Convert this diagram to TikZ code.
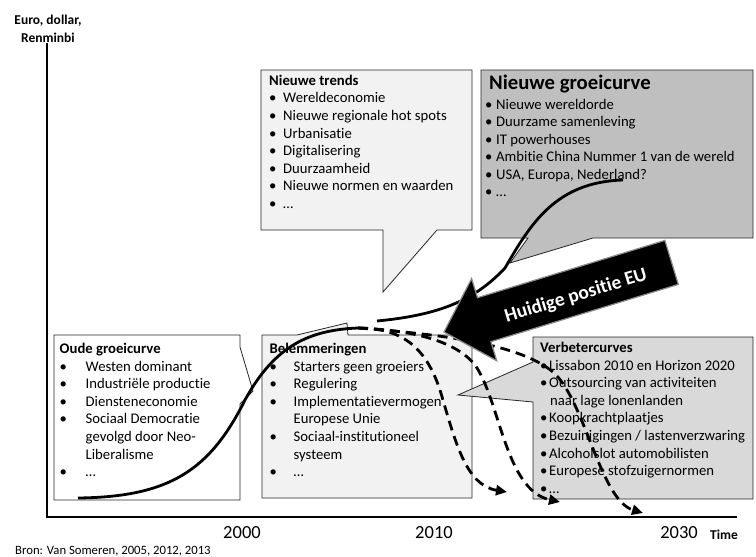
\documentclass[tikz,border=0pt]{standalone}
\usepackage{fontspec}
\setmainfont{Carlito}[Ligatures=NoCommon]
\usetikzlibrary{arrows.meta}

\definecolor{lichtgrijs}{HTML}{F2F2F2}
\definecolor{middengrijs}{HTML}{D9D9D9}
\definecolor{donkergrijs}{HTML}{BFBFBF}

\newcommand{\lijstfont}{\fontsize{14.7}{17.6}\selectfont}
\newcommand{\opsom}[2]{\makebox[#1][l]{•}#2}

\begin{document}
\begin{tikzpicture}[x=1pt,y=-1pt,
  rand/.style={draw=black!85,line width=0.8pt},
  tekst/.style={anchor=base west,inner sep=0pt},
  curve/.style={line width=2.8pt},
  stippel/.style={line width=2.8pt,dash pattern=on 10pt off 6pt,-{Triangle[length=11pt,width=10pt]}},
  jaar/.style={anchor=base,inner sep=0pt,font=\fontsize{18.5}{18.5}\selectfont}]

\useasboundingbox (0,0) rectangle (756,557);

% assen
\draw[line width=2.5pt] (47,43) -- (47,517) -- (737,517);
\node[inner sep=0pt,align=center,font=\fontsize{13.5}{18}\selectfont\bfseries] (yas) at (48,29) {Euro, dollar,\\Renminbi};
\node[jaar] (j2000) at (242,538) {2000};
\node[jaar] (j2010) at (434,538) {2010};
\node[jaar] (j2030) at (679,538) {2030};
\node[anchor=base,inner sep=0pt,font=\fontsize{13.5}{13.5}\selectfont\bfseries] (tijd) at (724,539.5) {Time};
\node[tekst,font=\fontsize{12.7}{12.7}\selectfont] (bron) at (15,554) {Bron: Van Someren, 2005, 2012, 2013};

% oude groeicurve
\draw[rand,fill=white] (54,335) -- (240,335) -- (240,347) -- (253,391) -- (240,404) -- (240,500) -- (54,500) -- cycle;
\node[tekst] (oude) at (59.5,353.5) {\parbox[t]{180pt}{\lijstfont
  \textbf{Oude groeicurve}\\
  \opsom{26pt}{Westen dominant}\\
  \opsom{26pt}{Industriële productie}\\
  \opsom{26pt}{Diensteneconomie}\\
  \opsom{26pt}{Sociaal Democratie}\\
  \hspace*{26pt}gevolgd door Neo-\\
  \hspace*{26pt}Liberalisme\\
  \opsom{26pt}{…}}};

% belemmeringen
\draw[rand,fill=lichtgrijs] (262,335) -- (297,335) -- (347,323) -- (348,335) -- (472,335) -- (472,498) -- (262,498) -- cycle;
\node[tekst] (belem) at (269.5,353.5) {\parbox[t]{200pt}{\lijstfont
  \textbf{Belemmeringen}\\
  \opsom{24pt}{Starters geen groeiers}\\
  \opsom{24pt}{Regulering}\\
  \opsom{24pt}{Implementatievermogen}\\
  \hspace*{24pt}Europese Unie\\
  \opsom{24pt}{Sociaal-institutioneel}\\
  \hspace*{24pt}systeem\\
  \opsom{24pt}{…}}};

% verbetercurves
\draw[rand,fill=middengrijs] (533,337) -- (753,337) -- (753,499) -- (533,499) -- (533,402) -- (458,395) -- (533,362) -- cycle;
\node[tekst] (verbeter) at (540,352.5) {\parbox[t]{215pt}{\lijstfont
  \textbf{Verbetercurves}\\
  \opsom{9pt}{Lissabon 2010 en Horizon 2020}\\
  \opsom{9pt}{Outsourcing van activiteiten}\\
  \hspace*{10pt}naar lage lonenlanden\\
  \opsom{9pt}{Koopkrachtplaatjes}\\
  \opsom{9pt}{Bezuinigingen / lastenverzwaring}\\
  \opsom{9pt}{Alcoholslot automobilisten}\\
  \opsom{9pt}{Europese stofzuigernormen}\\
  \opsom{9pt}{…}}};

% nieuwe trends
\draw[rand,fill=lichtgrijs] (261,70) -- (472,70) -- (472,230) -- (437,230) -- (383,292) -- (383,230) -- (261,230) -- cycle;
\node[tekst] (trends) at (269,85.2) {\parbox[t]{200pt}{\lijstfont
  \textbf{Nieuwe trends}\\
  \opsom{14pt}{Wereldeconomie}\\
  \opsom{14pt}{Nieuwe regionale hot spots}\\
  \opsom{14pt}{Urbanisatie}\\
  \opsom{14pt}{Digitalisering}\\
  \opsom{14pt}{Duurzaamheid}\\
  \opsom{14pt}{Nieuwe normen en waarden}\\
  \opsom{14pt}{…}}};

% nieuwe groeicurve
\draw[rand,fill=donkergrijs] (481,70) -- (753,70) -- (753,238) -- (593,238) -- (510,263) -- (528,238) -- (481,238) -- cycle;
\node[tekst] (groei) at (485,89) {\parbox[t]{265pt}{\fontsize{14.7}{17.4}\selectfont
  {\fontsize{20.7}{20.7}\selectfont\bfseries\hspace*{4pt}Nieuwe groeicurve}\\[3.1pt]
  \opsom{11pt}{Nieuwe wereldorde}\\
  \opsom{11pt}{Duurzame samenleving}\\
  \opsom{11pt}{IT powerhouses}\\
  \opsom{11pt}{Ambitie China Nummer 1 van de wereld}\\
  \opsom{11pt}{USA, Europa, Nederland?}\\
  \opsom{11pt}{…}}};

% curves
\coordinate (start) at (78,498);
\coordinate (plateau) at (358,328);
\draw[curve] (start) .. controls (170,497) and (210,470) .. (245,400) .. controls (275,345) and (310,330) .. (plateau);
\draw[stippel] (plateau) .. controls (400,328) and (425,345) .. (440,390) .. controls (455,440) and (465,485) .. (507,492);
\draw[stippel] (plateau) .. controls (410,330) and (455,340) .. (475,365) .. controls (500,400) and (505,490) .. (560,502);
\draw[stippel] (plateau) .. controls (450,335) and (520,345) .. (553,372) .. controls (585,400) and (600,500) .. (643,513);
\draw[curve] (377,321) .. controls (440,315) and (475,300) .. (505,268) .. controls (530,225) and (555,182) .. (623,180);

% huidige positie
\draw[draw=black!45,line width=1.2pt,fill=black] (444,332) -- (471.6,278.6) -- (477.5,297.7) -- (664.9,240.4) -- (678.3,284.4) -- (490.9,341.7) -- (496.8,360.8) -- cycle;
\node[rotate=17,text=white,font=\fontsize{19.5}{19.5}\selectfont\bfseries,inner sep=0pt] (huidig) at (576,296) {Huidige positie EU};
\end{tikzpicture}
\end{document}
